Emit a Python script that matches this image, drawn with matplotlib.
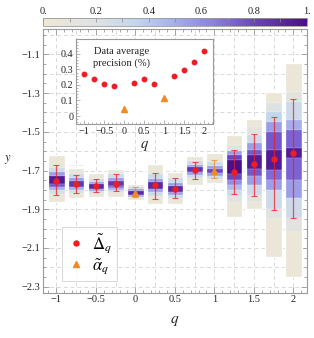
import numpy as np
import matplotlib
matplotlib.use("Agg")
import matplotlib.pyplot as plt
from matplotlib.colors import LinearSegmentedColormap, Normalize
from matplotlib.patches import Rectangle
from matplotlib.lines import Line2D
from matplotlib.ticker import MultipleLocator

plt.rcParams['font.family'] = ['Liberation Serif', 'DejaVu Serif']
plt.rcParams['mathtext.fontset'] = 'stix'

# ---------------- data ----------------
q_vals = [-1.0, -0.75, -0.5, -0.25, 0.0, 0.25, 0.5, 0.75, 1.0, 1.25, 1.5, 1.75, 2.0]
is_alpha = [False, False, False, False, True, False, False, False, True, False, False, False, False]
y_center = [-1.754, -1.770, -1.780, -1.768, -1.814, -1.775, -1.795, -1.697, -1.701, -1.708, -1.666, -1.641, -1.611]
y_err_top = [-1.673, -1.722, -1.745, -1.720, -1.783, -1.714, -1.739, -1.654, -1.646, -1.594, -1.513, -1.422, -1.332]
y_err_bot = [-1.826, -1.816, -1.812, -1.806, -1.835, -1.847, -1.843, -1.742, -1.739, -1.823, -1.833, -1.904, -1.947]

# inset: data average precision (%)
inset_q = [-1.0, -0.75, -0.5, -0.25, 0.0, 0.25, 0.5, 0.75, 1.0, 1.25, 1.5, 1.75, 2.0]
inset_prec = [0.273, 0.237, 0.205, 0.192, 0.045, 0.211, 0.237, 0.208, 0.118, 0.256, 0.299, 0.348, 0.417]

# distribution bins for each q (edges top->bottom, normalised density per bin; 0 = empty)
edges_m100 = [-1.620, -1.689, -1.708, -1.730, -1.768, -1.785, -1.802, -1.820, -1.861]
dens_m100 = [0.05, 0.30, 0.55, 0.95, 0.75, 0.50, 0.25, 0.05]
edges_m075 = [-1.668, -1.677, -1.689, -1.720, -1.740, -1.755, -1.785, -1.800, -1.815, -1.843, -1.852, -1.857]
dens_m075 = [0.03, 0.0, 0.08, 0.30, 0.55, 0.85, 0.50, 0.25, 0.06, 0.0, 0.03]
edges_m050 = [-1.714, -1.745, -1.760, -1.770, -1.795, -1.805, -1.815, -1.838, -1.846, -1.851]
dens_m050 = [0.06, 0.30, 0.55, 0.90, 0.55, 0.30, 0.06, 0.0, 0.03]
edges_m025 = [-1.674, -1.680, -1.694, -1.720, -1.740, -1.755, -1.780, -1.790, -1.800, -1.810, -1.835]
dens_m025 = [0.03, 0.0, 0.06, 0.30, 0.55, 0.85, 0.70, 0.50, 0.30, 0.06]
edges_p000 = [-1.770, -1.785, -1.795, -1.805, -1.825, -1.835, -1.852]
dens_p000 = [0.06, 0.30, 0.55, 0.90, 0.50, 0.06]
edges_p025 = [-1.668, -1.720, -1.745, -1.760, -1.795, -1.810, -1.830, -1.874]
dens_p025 = [0.05, 0.30, 0.55, 0.90, 0.55, 0.30, 0.05]
edges_p050 = [-1.688, -1.693, -1.706, -1.740, -1.765, -1.780, -1.810, -1.825, -1.840, -1.874]
dens_p050 = [0.03, 0.0, 0.06, 0.30, 0.55, 0.90, 0.55, 0.30, 0.06]
edges_p075 = [-1.623, -1.650, -1.670, -1.680, -1.710, -1.725, -1.740, -1.775]
dens_p075 = [0.06, 0.30, 0.55, 0.85, 0.55, 0.30, 0.06]
edges_p100 = [-1.608, -1.655, -1.675, -1.690, -1.715, -1.730, -1.745, -1.766]
dens_p100 = [0.06, 0.30, 0.55, 0.80, 0.55, 0.30, 0.06]
edges_p125 = [-1.517, -1.570, -1.600, -1.620, -1.645, -1.720, -1.750, -1.775, -1.800, -1.830, -1.870, -1.938]
dens_p125 = [0.05, 0.15, 0.55, 0.80, 1.00, 0.80, 0.60, 0.45, 0.30, 0.15, 0.05]
edges_p150 = [-1.436, -1.473, -1.516, -1.559, -1.594, -1.620, -1.690, -1.730, -1.775, -1.826, -1.860, -1.899]
dens_p150 = [0.05, 0.15, 0.30, 0.55, 0.75, 0.95, 0.75, 0.55, 0.30, 0.15, 0.05]
edges_p175 = [-1.296, -1.353, -1.400, -1.449, -1.500, -1.595, -1.698, -1.750, -1.800, -1.900, -1.950, -2.148]
dens_p175 = [0.05, 0.20, 0.35, 0.55, 0.75, 0.95, 0.70, 0.55, 0.30, 0.15, 0.05]
edges_p200 = [-1.143, -1.293, -1.345, -1.440, -1.490, -1.584, -1.636, -1.750, -1.843, -1.945, -2.020, -2.248]
dens_p200 = [0.05, 0.15, 0.30, 0.50, 0.72, 0.95, 0.72, 0.55, 0.30, 0.15, 0.05]

all_edges = [edges_m100, edges_m075, edges_m050, edges_m025, edges_p000, edges_p025, edges_p050,
             edges_p075, edges_p100, edges_p125, edges_p150, edges_p175, edges_p200]
all_dens = [dens_m100, dens_m075, dens_m050, dens_m025, dens_p000, dens_p025, dens_p050,
            dens_p075, dens_p100, dens_p125, dens_p150, dens_p175, dens_p200]

legend_labels = [r'$\tilde{\Delta}_q$', r'$\tilde{\alpha}_q$']
cbar_ticks = [0.0, 0.2, 0.4, 0.6, 0.8, 1.0]
cbar_ticklabels = ['0.', '0.2', '0.4', '0.6', '0.8', '1.']

# ---------------- style ----------------
cmap = LinearSegmentedColormap.from_list('dens', [
    (0.00, '#efe7d5'),
    (0.20, '#dde2e3'),
    (0.35, '#c3d6ec'),
    (0.50, '#a6aeea'),
    (0.65, '#8a7ee3'),
    (0.80, '#6a46c0'),
    (1.00, '#4a0f8a'),
])
norm = Normalize(0, 1)
red = '#ee1c24'
orange = '#f08a24'
frame_col = '#9a9a9a'
grid_col = '#d9d9d9'
txt_col = '#222222'

fig = plt.figure(figsize=(3.14, 3.38), dpi=100)
ax = fig.add_axes([0.138, 0.134, 0.839, 0.779])
ax.set_xlim(-1.165, 2.17)
ax.set_ylim(-2.331, -0.971)

# grid
for gx in np.arange(-1.0, 2.01, 0.25):
    ax.axvline(gx, color=grid_col, lw=0.7, ls=(0, (4, 3)), zorder=0)
for gy in np.arange(-2.3, -0.99, 0.1):
    ax.axhline(gy, color=grid_col, lw=0.7, ls=(0, (4, 3)), zorder=0)

box_w = 0.21
for q, edges, dens in zip(q_vals, all_edges, all_dens):
    seg_top = None
    for i, d in enumerate(dens):
        top, bot = edges[i], edges[i + 1]
        if d > 0:
            ax.add_patch(Rectangle((q - box_w / 2, bot), box_w, top - bot,
                                   facecolor=cmap(norm(d)), edgecolor=(1, 1, 1, 0.35),
                                   lw=0.35, zorder=2))
            if seg_top is None:
                seg_top = top
        if (d <= 0 or i == len(dens) - 1) and seg_top is not None:
            seg_bot = bot if d > 0 else top
            ax.add_patch(Rectangle((q - box_w / 2, seg_bot), box_w, seg_top - seg_bot,
                                   facecolor='none', edgecolor='white', lw=0.9, zorder=2.5))
            seg_top = None

for q, yc, et, eb, a in zip(q_vals, y_center, y_err_top, y_err_bot, is_alpha):
    col = orange if a else red
    ax.errorbar([q], [yc], yerr=[[yc - eb], [et - yc]], fmt='none', ecolor=col,
                elinewidth=0.9, capsize=2.0, capthick=0.8, alpha=0.75, zorder=3)
    if a:
        ax.plot([q], [yc], marker='^', color=orange, ms=4.3, ls='none', zorder=4)
    else:
        ax.plot([q], [yc], marker='o', color=red, ms=3.6, ls='none', zorder=4)

ax.set_xticks([-1, -0.5, 0, 0.5, 1, 1.5, 2])
ax.set_xticklabels(['\u22121', '\u22120.5', '0', '0.5', '1', '1.5', '2'])
ax.set_yticks([-2.3, -2.1, -1.9, -1.7, -1.5, -1.3, -1.1])
ax.set_yticklabels(['\u22122.3', '\u22122.1', '\u22121.9', '\u22121.7', '\u22121.5', '\u22121.3', '\u22121.1'])
ax.xaxis.set_minor_locator(MultipleLocator(0.1))
ax.yaxis.set_minor_locator(MultipleLocator(0.05))
ax.tick_params(which='both', direction='in', top=True, right=True, color=frame_col,
               labelsize=7.5, labelcolor=txt_col, width=0.6, pad=2)
ax.tick_params(which='major', length=4)
ax.tick_params(which='minor', length=2)
for s in ax.spines.values():
    s.set_color(frame_col)
    s.set_linewidth(0.8)
ax.set_xlabel('$q$', fontsize=11, color=txt_col, labelpad=7)
ax.set_ylabel('$y$', fontsize=9, color=txt_col, rotation=0)
ax.yaxis.set_label_coords(-0.135, 0.48)

handles = [Line2D([], [], marker='o', color=red, ls='none', ms=3.6),
           Line2D([], [], marker='^', color=orange, ls='none', ms=4.3)]
leg = ax.legend(handles, legend_labels, loc='upper left', bbox_to_anchor=(0.072, 0.2506),
                borderaxespad=0, fontsize=12, handlelength=1.0, handletextpad=0.5,
                borderpad=0.3, labelspacing=0.05, frameon=True, fancybox=False)
leg.get_frame().set_edgecolor('#cfcfcf')
leg.get_frame().set_linewidth(0.7)
leg.set_zorder(5)

# inset
ins = fig.add_axes([0.242, 0.632, 0.437, 0.252])
ins.set_zorder(6)
ins.set_facecolor('white')
ins.set_xlim(-1.21, 2.225)
ins.set_ylim(-0.054, 0.495)
for qq, pp, a in zip(inset_q, inset_prec, is_alpha):
    if a:
        ins.plot([qq], [pp], marker='^', color=orange, ms=4.0, ls='none')
    else:
        ins.plot([qq], [pp], marker='o', color=red, ms=3.2, ls='none')
ins.set_xticks([-1, -0.5, 0, 0.5, 1, 1.5, 2])
ins.set_xticklabels(['\u22121', '\u22120.5', '0', '0.5', '1', '1.5', '2'])
ins.set_yticks([0, 0.1, 0.2, 0.3, 0.4])
ins.set_yticklabels(['0', '0.1', '0.2', '0.3', '0.4'])
ins.xaxis.set_minor_locator(MultipleLocator(0.1))
ins.yaxis.set_minor_locator(MultipleLocator(0.02))
ins.tick_params(which='both', direction='in', color=frame_col, labelsize=7.3,
                labelcolor=txt_col, width=0.5, pad=2)
ins.tick_params(which='major', length=3)
ins.tick_params(which='minor', length=1.5)
for s in ins.spines.values():
    s.set_color(frame_col)
    s.set_linewidth(0.8)
ins.set_xlabel('$q$', fontsize=10.5, color=txt_col, labelpad=2)
ins.text(-0.06, 0.375, 'Data average\nprecision (%)', ha='center', va='center',
         fontsize=7.6, color=txt_col, linespacing=1.35)

# colorbar
cax = fig.add_axes([0.138, 0.923, 0.839, 0.0228])
sm = matplotlib.cm.ScalarMappable(norm=norm, cmap=cmap)
cb = fig.colorbar(sm, cax=cax, orientation='horizontal')
cb.outline.set_edgecolor(frame_col)
cb.outline.set_linewidth(0.6)
cax.xaxis.set_ticks_position('top')
cax.xaxis.set_label_position('top')
cb.set_ticks(cbar_ticks)
cb.set_ticklabels(cbar_ticklabels)
cax.xaxis.set_minor_locator(MultipleLocator(0.1))
cax.tick_params(which='both', direction='in', color='#888888', labelsize=7.5,
                labelcolor=txt_col, width=0.5, pad=2)
cax.tick_params(which='major', length=3)
cax.tick_params(which='minor', length=3)

fig.savefig('out.png', dpi=100)
